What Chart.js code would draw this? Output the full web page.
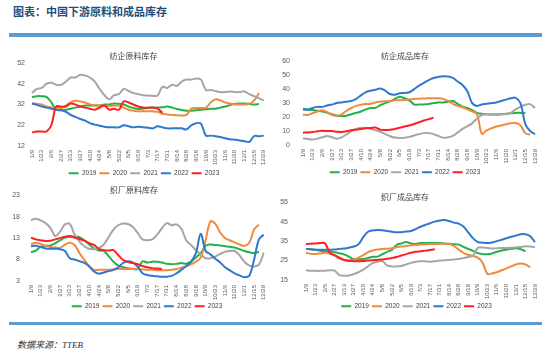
<!DOCTYPE html>
<html>
<head>
<meta charset="utf-8">
<script src="https://cdn.jsdelivr.net/npm/chart.js@4.4.0/dist/chart.umd.min.js"></script>
<style>
  body { margin: 0; background: #fff; width: 550px; height: 358px; position: relative; overflow: hidden; }
  #head { position: absolute; left: 13px; top: 3px; font: 700 11px "Noto Sans CJK SC", sans-serif; color: #1f4e79; }
  .bar { position: absolute; left: 9px; width: 533px; background: #5b9bd5; }
  #src { position: absolute; left: 17px; top: 338px; font: italic 9px "Liberation Serif", "Noto Sans CJK SC", serif; color: #333; }
  canvas { position: absolute; }
</style>
</head>
<body>
<div id="head">图表：中国下游原料和成品库存</div>
<div class="bar" style="top:33px;height:4px"></div>
<canvas id="c1" width="275" height="144" style="left:0;top:44px"></canvas>
<canvas id="c2" width="275" height="144" style="left:275px;top:44px"></canvas>
<canvas id="c3" width="275" height="141" style="left:0;top:180px"></canvas>
<canvas id="c4" width="275" height="140" style="left:275px;top:180px"></canvas>
<div class="bar" style="top:322px;height:3px"></div>
<div id="src">数据来源：TTEB</div>
<script>
// 周度，x轴每两周标一次
const tickLabels = ["1/9","1/23","2/6","2/27","3/13","3/27","4/10","4/24","5/8","5/22","6/5","6/19",
  "7/3","7/17","7/31","8/14","8/28","9/18","10/9","10/23","11/6","11/20","12/1","12/15","12/29"];
const years = ["2019", "2020", "2021", "2022", "2023"];
const colors = ["#22b14c", "#f08a3c", "#a6a6a6", "#2f78cf", "#ff1f1f"];

// 纺企原料库存
const spinRaw2019 = [35.5,36,36,35.7,33,29.5,29.3,29.5,30,30.5,31,31.5,31.5,31.5,31.5,32,32,32.5,32.3,32,31,30.3,29.8,30,30.3,30.5,30.5,30.7,31,30.5,29.8,29.3,29,29,29.2,29.5,29.7,30,30,30.5,31,31.7,32.3,32.5,32.5,32.3,32,32.3];
const spinRaw2020 = [32.5,32.3,32,31,30.5,30.5,30.3,31.5,33,33.8,33.5,33,32,31.5,31.5,31.5,31.3,31.5,31.5,30.5,29.5,29,28.7,28.7,28.7,28.7,28.5,27.5,27.2,27,26.8,26.7,27,30,30.3,30.3,30.5,33,34.5,34,33,32.5,32,32,32,32.3,34,37.5];
const spinRaw2021 = [37.5,39.5,40,42,42.5,41.5,41.5,43,45,45,46.3,46,45,43,39.5,36.5,34.5,36.5,37,39.5,38.5,37.5,37,36.5,36.3,36.2,36.3,40.5,40,41.5,41,43,44,44,44.5,44,39,39,38.5,38,38,38.3,38,38,38.3,37,36,35,34];
const spinRaw2022 = [32.5,31.8,31,30.5,30,29.5,29.2,28.5,27,26,25,24.2,23,22.3,21.8,21.3,21,21,21,22,21.5,21,21.3,21,20.8,20.5,21.5,21,20.5,20.5,20.5,20.5,20,22,23,22.8,17,17,16.7,16.3,15.7,15.2,15,14.7,14.3,14,16.8,16.7,17];
const spinRaw2023 = [18.5,19,19,19,22,31,31,31,32.5,32,31,30.5,30,29.5,30.5,31.5,29.5,30,29.5,33.5,33,32,31,30.5,30.5,30.5,30,28];

// 纺企成品库存
const spinFin2019 = [25.9,25.5,25,24.5,24,23,22,21,20.8,21,22,23,24,25.5,26.5,26.7,28.5,30,31.2,33,34.5,33.5,32,29,29,29,29.3,30,30.5,30.5,31,31.5,29.5,27.5,26.5,25,23,22.3,22,21.8,21.8,22,22.3,22.7,23,23,23];
const spinFin2020 = [21.7,21.5,22.8,24,24.8,23.5,21.5,21,22,24.5,26.5,28,28.8,29.3,29.5,30.5,31,31.3,31.5,32,32,32.3,32.5,33,33.1,33.3,33.5,33.5,33.5,33,31.5,29.5,28,27,25.5,24,22,8,10.5,12,13.2,14,14.8,15.5,15.8,14,8.5,7.5];
const spinFin2021 = [4.9,4.3,3.9,4.5,5.5,6.5,5.5,4.5,5.5,7.5,10,11.5,12.3,12.3,11.5,10.5,9.5,7.8,6.3,5.3,5,5.2,5.8,6.8,7.8,8.5,8.5,7.8,6.5,5.2,5.5,6.5,9,11.5,13.5,15.5,19,21.5,22,21.8,21.8,22,22.2,23,25.5,27.5,28.8,29.3,26.5];
const spinFin2022 = [25.4,25.3,26.5,27.3,27.3,28.3,29,30,30.5,31,31.5,33,35.5,37.8,38.8,39.5,40.5,39,36.5,36,37,37.3,37.8,40,42.5,44.5,46.5,48,48.8,49.3,49,48,45.5,43,38.5,30,28,29,29.5,30,30.5,31.5,32.5,33.5,33.8,30,15,10,7.8];
const spinFin2023 = [8.8,9,9.3,9.8,10.2,10,10,9.5,9.3,9.8,10.5,11,11.5,12,12.2,12.5,11,10.8,11,11.5,12.3,13.2,14,15,16.3,17.5,18.5,19.5];

// 织厂原料库存
const weaveRaw2019 = [9.7,10.1,11,11.2,11.3,11.8,12.5,13.1,13.3,13.4,13.2,12.5,11.5,10.6,10.1,10,8.8,7.5,6.6,6.2,6,5.8,5.8,7.6,7.3,7.5,7.5,7.3,7,6.9,7,7.2,7,7.5,8.5,9.5,11.2,11.5,11.4,11.3,11.1,11,10.8,10.4,10,9.7,9.5,9.8];
const weaveRaw2020 = [11.6,11.9,11.6,11.2,10.9,10.8,10.7,11.5,11.9,11.4,9.5,7.9,6.5,5.6,5.6,5.6,5.6,5.7,5.8,5.8,5.8,5.8,5.8,5.7,5.6,5.6,5.5,5.5,5.5,5.6,5.8,6.1,6.4,6.9,7.5,8.5,12.5,16.9,16.3,14.3,13,12.5,12,11.5,11.2,11.9,15,16.1];
const weaveRaw2021 = [17.2,17.5,17.1,16.5,15.4,13.5,14.5,16.2,16.3,13.8,12.2,11.1,10.5,10.4,10.7,11.5,13.2,15,16,16.4,16.3,15.6,14.2,12.7,12.5,12.7,13.8,15.3,16.5,16,16.2,15.2,12.5,11.4,10.2,9.2,8.3,8.3,8.7,9.3,9.8,10,10,9,7.5,6.6,6.4,6.8,9.6];
const weaveRaw2022 = [11.1,11.2,10.9,10.6,10.5,10.5,10.4,10,8.3,8,7.6,7.2,6.4,5.2,4.7,5,5.3,5.6,6.2,7.2,7.6,7.3,6.3,4.8,4.4,4.2,4.1,4,4,4.2,4.8,5.6,6.5,7.5,9.5,14,10,9.2,8.2,7.3,6.2,5.5,4.8,4.3,3.9,4.2,8,12.7,13.8];
const weaveRaw2023 = [13.1,12.7,12.5,12.3,12.4,12.7,13,13.3,13.5,13.1,12.8,12.4,11.8,11.4,10.5,10.2,10.1,10.2,9,7.9,7.4,7.2,6.9,6.5,6.2,6,5.9,5.8];

// 织厂成品库存
const weaveFin2019 = [31,30.8,30.5,30,29.8,29.5,29.3,28.8,28.2,27,25.8,25.6,25.8,26.3,26.9,27,28.3,29.5,30.5,33,33.8,34.5,33.8,33.5,34,34,34,34,34,33.8,33.6,33.4,33.2,32,31,30,28.8,28.3,28.2,28.7,29.5,30.2,30.6,31,31.3,30.8,29.8];
const weaveFin2020 = [29,28.5,28.4,28.6,29,28.5,27.5,26,25.3,25.1,25.5,26.5,27.8,29.3,30.2,30.7,31,31.1,31.3,31.8,32.2,32.5,32.8,33,33.2,33.4,33.5,33.5,33.6,33.7,33.5,32.5,30.6,29,28,27.3,26.5,24,18.2,18.3,19,20,21,22,23,23.5,23,21.5];
const weaveFin2021 = [20,19.8,19.7,19.7,19.8,20,19.8,17.5,17.2,17.3,18,19,20.3,22,23.8,24.4,24.7,22.5,22,22,22.2,23,23.8,24.4,24.7,24.6,24.4,24.6,25,25.1,25.3,25.5,25.8,26.3,26.8,27.5,31.5,31.7,31.5,31.2,31.3,31.5,31.5,31.6,31.8,32,32.3,32.2,31.8];
const weaveFin2022 = [31,30.8,30.6,30.6,30.6,30.6,30.7,31,31.2,31.6,32.2,33.3,37,39.8,40.5,40.7,40.6,40.2,39.8,39.5,39.6,39.9,40.2,41.2,42.4,43.3,44.2,45,45.6,45.8,45.3,44.5,44,42.5,39.5,36.5,34.5,34.2,34,34.3,35,35.7,36.5,37.2,37.8,38.5,38.5,37.5,34.5];
const weaveFin2023 = [33.5,33.7,33.8,34,33.8,29,27.8,26.5,25.3,24.8,24.7,24.7,24.8,25,25.2,25.3,25.6,25.9,26.3,26.8,27.6,28.3,29,29.5,29.8,30.1,30.4,30.8];

const weeks = tickLabels.flatMap((t, i) => (i < tickLabels.length - 1 ? [t, ""] : [t]));

Chart.defaults.font.family = "'Liberation Sans', 'Noto Sans CJK SC', sans-serif";
Chart.defaults.color = "#595959";

function drawPanel(id, title, yMin, yMax, step, series, g) {
  new Chart(document.getElementById(id), {
    type: "line",
    data: {
      labels: weeks,
      datasets: series.map((s, k) => ({
        label: years[k],
        data: s,
        borderColor: colors[k],
        backgroundColor: colors[k],
        borderWidth: 2,
        pointRadius: 0,
        tension: 0.35,
        fill: false,
        order: 4 - k,
      })),
    },
    options: {
      responsive: false,
      animation: false,
      layout: { padding: { left: 0, right: g.padRight, top: 0, bottom: g.padBottom } },
      plugins: {
        title: {
          display: true,
          text: title,
          color: "#404040",
          font: { size: 8, weight: "normal", family: "'Noto Sans CJK SC', sans-serif" },
          padding: { top: g.titleTop, bottom: g.titleBottom },
        },
        legend: {
          position: "bottom",
          labels: {
            usePointStyle: true,
            pointStyle: "line",
            pointStyleWidth: 10,
            font: { size: 6.5 },
            color: "#404040",
            padding: 3,
            sort: (a, b) => a.datasetIndex - b.datasetIndex,
          },
        },
        tooltip: { enabled: false },
      },
      scales: {
        x: {
          grid: { display: false, drawTicks: false },
          border: { display: false },
          ticks: { autoSkip: false, maxRotation: 90, minRotation: 90, padding: 4, font: { size: 6 } },
          afterFit: (s) => { s.height = g.xHeight; },
        },
        y: {
          min: yMin,
          max: yMax,
          grid: { display: false, drawTicks: false },
          border: { display: false },
          ticks: { stepSize: step, padding: g.tickPad, font: { size: 7 } },
          afterFit: (s) => { s.width = g.yWidth; },
        },
      },
    },
    plugins: [{
      id: "legendShift",
      afterLayout(chart) {
        chart.legend.left += g.legendShift;
        chart.legend.right += g.legendShift;
      },
    }],
  });
}

drawPanel("c1", "纺企原料库存", 12, 52, 10,
  [spinRaw2019, spinRaw2020, spinRaw2021, spinRaw2022, spinRaw2023],
  { yWidth: 32, tickPad: 7, padRight: 8, padBottom: 1.5, titleTop: 7.2, titleBottom: 2.2, xHeight: 21, legendShift: 10.5 });

drawPanel("c2", "纺企成品库存", 0, 60, 10,
  [spinFin2019, spinFin2020, spinFin2021, spinFin2022, spinFin2023],
  { yWidth: 28, tickPad: 13, padRight: 15, padBottom: 2.5, titleTop: 7.4, titleBottom: 0, xHeight: 21, legendShift: 0 });

drawPanel("c3", "织厂原料库存", 3, 23, 5,
  [weaveRaw2019, weaveRaw2020, weaveRaw2021, weaveRaw2022, weaveRaw2023],
  { yWidth: 31, tickPad: 11, padRight: 7, padBottom: 1.5, titleTop: 5.2, titleBottom: 0.2, xHeight: 19, legendShift: 13 });

drawPanel("c4", "织厂成品库存", 15, 55, 10,
  [weaveFin2019, weaveFin2020, weaveFin2021, weaveFin2022, weaveFin2023],
  { yWidth: 31, tickPad: 18, padRight: 15, padBottom: 0.5, titleTop: 8.2, titleBottom: 0.2, xHeight: 20, legendShift: 11.5 });
</script>
</body>
</html>
